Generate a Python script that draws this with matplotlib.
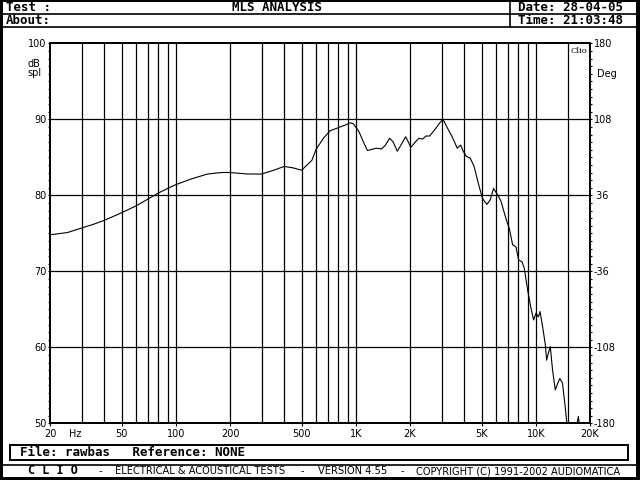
import matplotlib
matplotlib.use("Agg")
import matplotlib.pyplot as plt
from matplotlib.patches import Rectangle

# Response curve (Hz, dB spl)
freq = [20, 25, 30, 35, 40, 50, 60, 70, 80, 90, 100, 120, 150, 180, 200,
        250, 300, 350, 400, 450, 500, 570, 600, 660, 720, 800, 875, 930,
        970, 1040, 1100, 1160, 1210, 1300, 1390, 1460, 1540, 1610, 1700,
        1800, 1890, 1950, 2020, 2120, 2240, 2350, 2450, 2570, 2760, 2920,
        3050, 3220, 3430, 3660, 3820, 3950, 4120, 4320, 4540, 4790, 5050,
        5350, 5580, 5820, 6160, 6410, 6830, 7130, 7430, 7760, 8020, 8380,
        8630, 9010, 9410, 9720, 10030, 10330, 10560, 10910, 11300, 11480,
        11730, 12030, 12390, 12820, 13100, 13600, 14060, 14560, 15100,
        16000, 16900, 17240, 17500, 18000]
spl = [74.8, 75.1, 75.7, 76.2, 76.7, 77.7, 78.6, 79.5, 80.3, 80.9, 81.4,
       82.1, 82.8, 83.0, 83.0, 82.8, 82.8, 83.3, 83.8, 83.6, 83.3, 84.6,
       86.0, 87.5, 88.5, 88.9, 89.25, 89.55, 89.4, 88.4, 87.05, 85.9, 86.0,
       86.2, 86.1, 86.6, 87.5, 87.05, 85.8, 86.8, 87.7, 87.1, 86.3, 86.9,
       87.5, 87.4, 87.8, 87.8, 88.7, 89.5, 90.0, 88.9, 87.7, 86.2, 86.6,
       85.8, 85.1, 84.9, 83.8, 81.6, 79.6, 78.8, 79.4, 80.9, 80.0, 79.2,
       76.9, 75.6, 73.5, 73.2, 71.5, 71.25, 70.4, 67.5, 65.1, 63.6, 64.5,
       64.0, 64.7, 62.7, 60.3, 58.3, 59.2, 60.1, 57.0, 54.4, 55.0, 55.9,
       55.3, 52.2, 48.5, 47.0, 49.8, 50.9, 49.5, 47.0]

x_ticks = [20, 50, 100, 200, 500, 1000, 2000, 5000, 10000, 20000]
x_labels = ['20', '50', '100', '200', '500', '1K', '2K', '5K', '10K', '20K']
db_ticks = [50, 60, 70, 80, 90, 100]
deg_ticks = [-180, -108, -36, 36, 108, 180]
deg_labels = ['-180', '-108', '-36', ' 36', '108', '180']
grid_freqs = ([30, 40] + [100 * k for k in range(1, 10)]
              + [1000 * k for k in range(1, 10)] + [10000, 15000])
grid_freqs += [10 * k for k in range(5, 10)]

W, H = 640, 480
fig = plt.figure(figsize=(W / 100, H / 100), dpi=100)
fig.patch.set_facecolor('white')

# fond en coordonnées pixel
bg = fig.add_axes([0, 0, 1, 1])
bg.set_xlim(0, W)
bg.set_ylim(H, 0)
bg.axis('off')

k = 'black'
bg.add_patch(Rectangle((0, 0), 3, H, color=k, lw=0))
bg.add_patch(Rectangle((636, 0), 4, H, color=k, lw=0))
bg.add_patch(Rectangle((0, 477), W, 3, color=k, lw=0))
bg.add_patch(Rectangle((0, 0), W, 1.5, color=k, lw=0))
bg.plot([0, W], [13.5, 13.5], color=k, lw=1.2)
bg.plot([0, W], [26.5, 26.5], color=k, lw=1.2)
bg.plot([509.5, 509.5], [0, 26.5], color=k, lw=1.2)
bg.plot([0, W], [465, 465], color=k, lw=1.2)
bg.add_patch(Rectangle((10, 445), 618, 15, fill=False, ec=k, lw=1.4))

mono = dict(family='DejaVu Sans Mono', weight='bold', fontsize=9, color=k, va='center')
bg.text(6, 7.5, 'Test :', ha='left', **mono)
bg.text(277, 7.5, 'MLS ANALYSIS', ha='center', **mono)
bg.text(6, 20.5, 'About:', ha='left', **mono)
bg.text(518, 7.5, 'Date: 28-04-05', ha='left', **mono)
bg.text(518, 20.5, 'Time: 21:03:48', ha='left', **mono)
bg.text(20, 452.5, 'File: rawbas   Reference: NONE', ha='left', **mono)

foot = dict(family='DejaVu Sans', fontstretch='condensed', fontsize=7.9, color=k, va='center')
bg.text(28, 471, 'C L I O', ha='left', family='DejaVu Sans Mono', weight='bold',
        fontsize=8.5, color=k, va='center')
bg.text(100, 471, '-', ha='center', **foot)
bg.text(115, 471, 'ELECTRICAL & ACOUSTICAL TESTS', ha='left', **foot)
bg.text(302, 471, '-', ha='center', **foot)
bg.text(318, 471, 'VERSION 4.55', ha='left', **foot)
bg.text(402, 471, '-', ha='center', **foot)
bg.text(416, 471, 'COPYRIGHT (C) 1991-2002 AUDIOMATICA', ha='left', **foot)

small = dict(family='DejaVu Sans', fontsize=7, color=k, va='center')
bg.text(27, 64, 'dB', ha='left', **small)
bg.text(27, 73, 'spl', ha='left', **small)
bg.text(597, 74, 'Deg', ha='left', **small)
bg.text(75, 434, 'Hz', ha='center', **small)

# zone du graphique
left, right, top, bottom = 50, 590, 43.3, 423.3
ax = fig.add_axes([left / W, 1 - bottom / H, (right - left) / W, (bottom - top) / H])
ax.set_xscale('log')
ax.set_xlim(20, 20000)
ax.set_ylim(50, 100)
ax.set_facecolor('white')

for f in grid_freqs:
    ax.axvline(f, color=k, lw=0.9)
for d in db_ticks[1:-1]:
    ax.axhline(d, color=k, lw=0.9)

ax.plot(freq, spl, color=k, lw=0.8, clip_on=True)

ax.set_xticks(x_ticks)
ax.set_xticklabels(x_labels)
ax.xaxis.set_minor_locator(matplotlib.ticker.NullLocator())
ax.set_yticks(db_ticks)
ax.set_yticklabels([str(d) for d in db_ticks])
ax.set_yticks(range(50, 101), minor=True)
ax.tick_params(axis='x', which='major', length=2.5, width=0.8, pad=1.5,
               labelsize=7, direction='out')
ax.tick_params(axis='y', which='both', length=1.5, width=0.8, pad=1,
               labelsize=7, direction='out')
for s in ax.spines.values():
    s.set_linewidth(1.4)

ax.text(0.963, 0.99, 'Clio', transform=ax.transAxes, ha='left', va='top',
        family='DejaVu Serif', fontsize=6, color=k)

ax2 = ax.twinx()
ax2.set_ylim(-180, 180)
ax2.set_yticks(deg_ticks)
ax2.set_yticklabels(deg_labels)
ax2.set_yticks([-180 + 7.2 * i for i in range(51)], minor=True)
ax2.tick_params(axis='y', which='both', length=1.5, width=0.8, pad=1,
                labelsize=7, direction='out')
for s in ax2.spines.values():
    s.set_linewidth(1.4)

fig.savefig('out.png', dpi=100, facecolor='white')
